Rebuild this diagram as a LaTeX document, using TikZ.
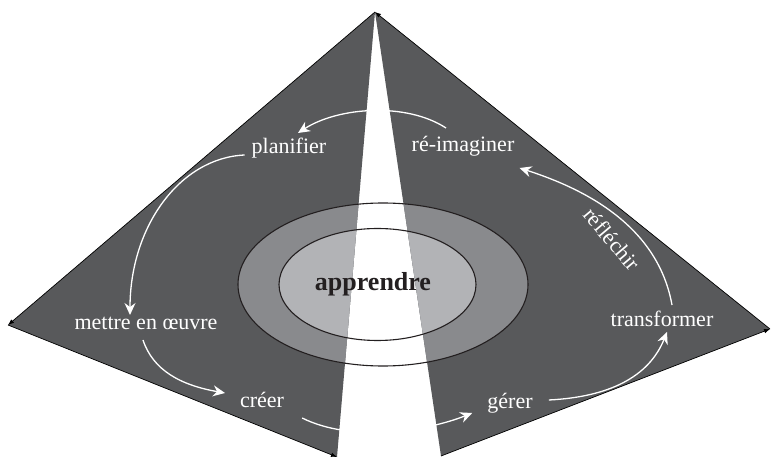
\documentclass[tikz,border=0pt]{standalone}
\usepackage{fontspec}
\setmainfont{Liberation Serif}
\usepackage{tikz}
\usetikzlibrary{arrows.meta}
\definecolor{pyrgray}{HTML}{58595B}
\definecolor{ringgray}{HTML}{898A8D}
\definecolor{coregray}{HTML}{B2B3B6}
\definecolor{inkdark}{HTML}{231F20}
\tikzstyle{word} = [text=white, anchor=base, inner sep=2pt,
    font=\fontsize{22}{26}\selectfont]
\tikzstyle{flow} = [draw=white, line width=1.3pt,
    -{Stealth[length=12pt,width=11pt,inset=4pt]}]
\tikzstyle{rim} = [draw=black, line width=0.7pt,
    -{Latex[length=6pt,width=4.5pt]}]

\begin{document}
\begin{tikzpicture}[x=1pt, y=1pt]
  \useasboundingbox (0,0) rectangle (771,458);
  \coordinate (apex) at (375,446);
  \coordinate (ltip) at (8,133);
  \coordinate (lbot) at (337,1);
  \coordinate (rbot) at (441,2);
  \coordinate (rtip) at (770,129);
  \coordinate (mid) at (383,173.5);
  \fill [pyrgray] (apex) -- (ltip) -- (lbot) -- cycle;
  \fill [pyrgray] (apex) -- (rbot) -- (rtip) -- cycle;
  \begin{scope}
    \clip (apex) -- (ltip) -- (lbot) -- cycle (apex) -- (rbot) -- (rtip) -- cycle;
    \fill [ringgray] (mid) ellipse [x radius=145, y radius=81.5];
    \fill [coregray] ([xshift=-5.5pt]mid) ellipse [x radius=98.5, y radius=56];
  \end{scope}
  \draw [inkdark, line width=1.1pt] (mid) ellipse [x radius=145, y radius=81.5];
  \draw [inkdark, line width=1.1pt] ([xshift=-5.5pt]mid) ellipse [x radius=98.5, y radius=56];
  \draw [rim] (apex) -- (ltip);
  \draw [rim] (ltip) -- (lbot);
  \draw [rim] (rbot) -- (rtip);
  \draw [rim] (rtip) -- (apex);

  \node [word] (plan) at (289,304) {planifier};
  \node [word] (reim) at (463,306) {r\'e-imaginer};
  \node [word] (mettre) at (146,128) {mettre en \oe uvre};
  \node [word] (creer) at (262,51) {cr\'eer};
  \node [word] (gerer) at (510,50) {g\'erer};
  \node [word] (transf) at (662,131) {transformer};
  \node [word, anchor=center, rotate=-50] (refl) at (612,219) {r\'efl\'echir};
  \node [word, text=inkdark, font=\fontsize{26}{30}\bfseries] (appr) at (373,167) {apprendre};

  \draw [flow] ([shift={(-17,24)}]reim.base) .. controls +(-40,26) and +(40,26) .. ([shift={(9,21)}]plan.base);
  \draw [flow] ([shift={(-5,-1)}]plan.base west) .. controls +(-65,-3) and +(0,88) .. ([shift={(-16,15)}]mettre.base);
  \draw [flow] ([shift={(-3,-10)}]mettre.base) .. controls +(10,-30) and +(-45,8) .. ([shift={(-37,14)}]creer.base);
  \draw [flow] ([shift={(16,-11)}]creer.base east) .. controls +(50,-25) and +(-45,-18) .. ([shift={(-13,-5)}]gerer.base west);
  \draw [flow] ([shift={(14,8)}]gerer.base east) .. controls +(60,3) and +(-18,-45) .. ([shift={(5,-5)}]transf.base);
  \draw [flow] ([shift={(10,22)}]transf.base) .. controls +(-13,72) and +(78,-25) .. ([shift={(3,-16)}]reim.base east);
\end{tikzpicture}
\end{document}
